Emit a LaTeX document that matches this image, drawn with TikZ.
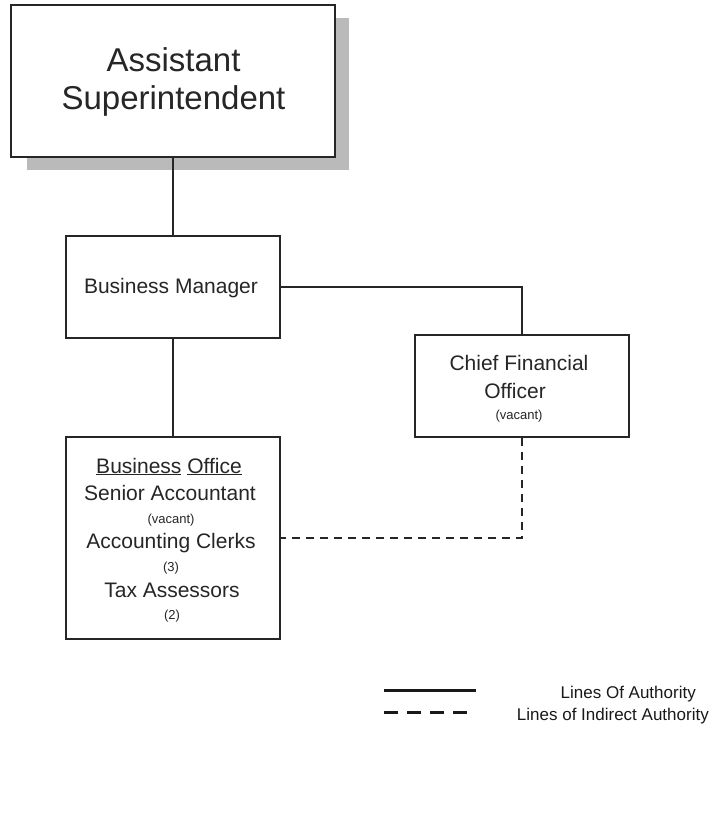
\documentclass[tikz,border=0pt]{standalone}
\usepackage{fontspec}
\setmainfont{Liberation Sans}
\begin{document}
\begin{tikzpicture}[x=1pt,y=-1pt,
  box/.style={draw=black!85,line width=2pt,fill=white,inner sep=0pt},
  conn/.style={draw=black!85,line width=2pt},
  indirect/.style={draw=black!85,line width=2pt,dash pattern=on 8pt off 6pt},
  txt/.style={inner sep=0pt,anchor=base,text=black!85},
  big/.style={font=\fontsize{33}{38}\selectfont},
  mid/.style={font=\fontsize{21}{25}\selectfont},
  small/.style={font=\fontsize{13}{15}\selectfont},
  leg/.style={font=\fontsize{17}{20}\selectfont,inner sep=0pt,anchor=base east,text=black!90}]
\useasboundingbox[fill=white] (0,0) rectangle (727,824);
% Assistant Superintendent with shadow
\fill[black!27] (27,18) rectangle (349,170);
\node[box,minimum width=324pt,minimum height=152pt] (as) at (173,81) {};
\node[txt,big] (as1) at (173.5,72) {Assistant};
\node[txt,big] (as2) at (173.5,110) {Superintendent};
% Business Manager
\node[box,minimum width=214pt,minimum height=102pt] (bm) at (173,287) {};
\node[txt,mid] (bm1) at (171,293) {Business Manager};
% Chief Financial Officer
\node[box,minimum width=214pt,minimum height=102pt] (cfo) at (522,386) {};
\node[txt,mid] (cfo1) at (519,370) {Chief Financial};
\node[txt,mid] (cfo2) at (515,398) {Officer};
\node[txt,small] (cfo3) at (519,419) {(vacant)};
% Business Office
\node[box,minimum width=214pt,minimum height=202pt] (bo) at (173,538) {};
\node[txt,mid] (bo1) at (169,473) {\underline{Business} \underline{Office}};
\node[txt,mid] (bo2) at (170,500) {Senior Accountant};
\node[txt,small] (bo3) at (171,523) {(vacant)};
\node[txt,mid] (bo4) at (171,548) {Accounting Clerks};
\node[txt,small] (bo5) at (171,571) {(3)};
\node[txt,mid] (bo6) at (172,597) {Tax Assessors};
\node[txt,small] (bo7) at (172,619) {(2)};
% connectors
\draw[conn] (as.south) -- (bm.north);
\draw[conn] (bm.south) -- (bo.north);
\draw[conn] (bm.east) -| (cfo.north);
\draw[indirect] (cfo.south) |- (bo.east);
% legend
\coordinate (l1a) at (384,690);
\coordinate (l1b) at (476,690);
\coordinate (l2a) at (384,712);
\coordinate (l2b) at (476,712);
\draw[line width=3pt,black!90] (l1a) -- (l1b);
\draw[line width=3pt,black!90,dash pattern=on 14pt off 9pt] (l2a) -- (l2b);
\node[leg] (lg1) at (696,698) {Lines Of Authority};
\node[leg] (lg2) at (709,720) {Lines of Indirect Authority};
\end{tikzpicture}
\end{document}
